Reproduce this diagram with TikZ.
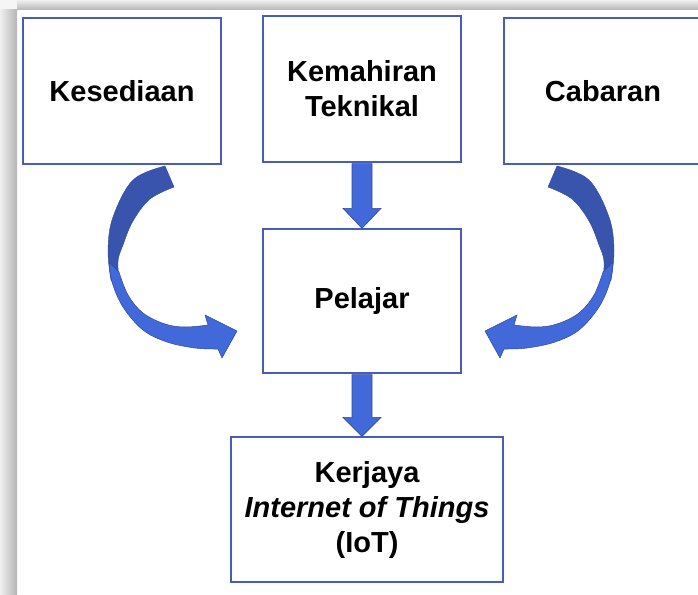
\documentclass[tikz,border=0pt]{standalone}
\usepackage{fontspec}
\setmainfont{Liberation Sans}
\usetikzlibrary{calc}
\definecolor{boxblue}{RGB}{72,92,186}
\definecolor{arrlight}{RGB}{66,105,218}
\definecolor{arrdark}{RGB}{56,84,172}
\definecolor{arredge}{RGB}{48,72,160}
\newcommand{\sidecurve}{%
  \path[fill=arrdark,draw=arredge,line width=0.4pt]
    plot[smooth,tension=0.6] coordinates {(165,166) (133,180) (113,217) (108,250) (111,280)}
    -- (120,290)
    -- plot[smooth,tension=0.6] coordinates {(120,290) (118,262) (123,245) (133,221) (150,199) (174,187)}
    -- cycle;
  \path[fill=arrlight,draw=arredge,line width=0.5pt,line join=miter]
    plot[smooth,tension=0.6] coordinates {(109,262) (112,282) (123,307) (143,330) (167,342) (195,348) (218,349)}
    -- (222,358) -- (237,331) -- (205,315) -- (208,325)
    -- plot[smooth,tension=0.6] coordinates {(208,325) (185,327) (165,324) (143,313) (128,295) (119,272)}
    -- cycle;
}
\begin{document}
\begin{tikzpicture}[x=1pt,y=-1pt,
  box/.style={draw=boxblue,line width=1.3pt,fill=white,minimum width=198pt,
    minimum height=146pt,inner sep=0pt,align=center,
    font=\fontsize{29}{35}\selectfont\bfseries},
  blk/.style={fill=arrlight,draw=arredge,line width=0.6pt,line join=miter}]
\useasboundingbox (0,0) rectangle (698,594);
\clip (0,0) rectangle (698,594);
\fill[white] (0,0) rectangle (698,594);
% shadow of the panel
\fill[gray!8] (0,0) rectangle (17,10);
\shade[left color=gray!12,right color=gray!58] (0,10) rectangle (17,594);
\shade[top color=gray!12,bottom color=gray!58] (17,0) rectangle (698,10);

% boxes
\node[box] (kes) at (122,91) {Kesediaan};
\node[box] (tek) at (362,89) {Kemahiran\\Teknikal};
\node[box] (cab) at (603,91) {Cabaran};
\node[box,minimum height=144pt] (pel) at (362,301) {Pelajar};
\node[box,minimum width=272pt,minimum height=145pt] (ker) at (367,509.5)
  {Kerjaya\\\textit{Internet of Things}\\(IoT)};

% straight block arrows
\path[blk] ($(tek.south)+(-10,1)$) -- ($(pel.north)+(-10,-20)$) -- ($(pel.north)+(-19,-20)$)
  -- (pel.north) -- ($(pel.north)+(19,-20)$) -- ($(pel.north)+(10,-20)$)
  -- ($(tek.south)+(10,1)$) -- cycle;
\coordinate (kertop) at (pel.south |- ker.north);
\path[blk] ($(pel.south)+(-10,1)$) -- ($(kertop)+(-10,-19)$) -- ($(kertop)+(-19,-19)$)
  -- (kertop) -- ($(kertop)+(19,-19)$) -- ($(kertop)+(10,-19)$)
  -- ($(pel.south)+(10,1)$) -- cycle;

% curved arrows
\sidecurve
\begin{scope}[xshift=722pt,xscale=-1]
\sidecurve
\end{scope}
\end{tikzpicture}
\end{document}
